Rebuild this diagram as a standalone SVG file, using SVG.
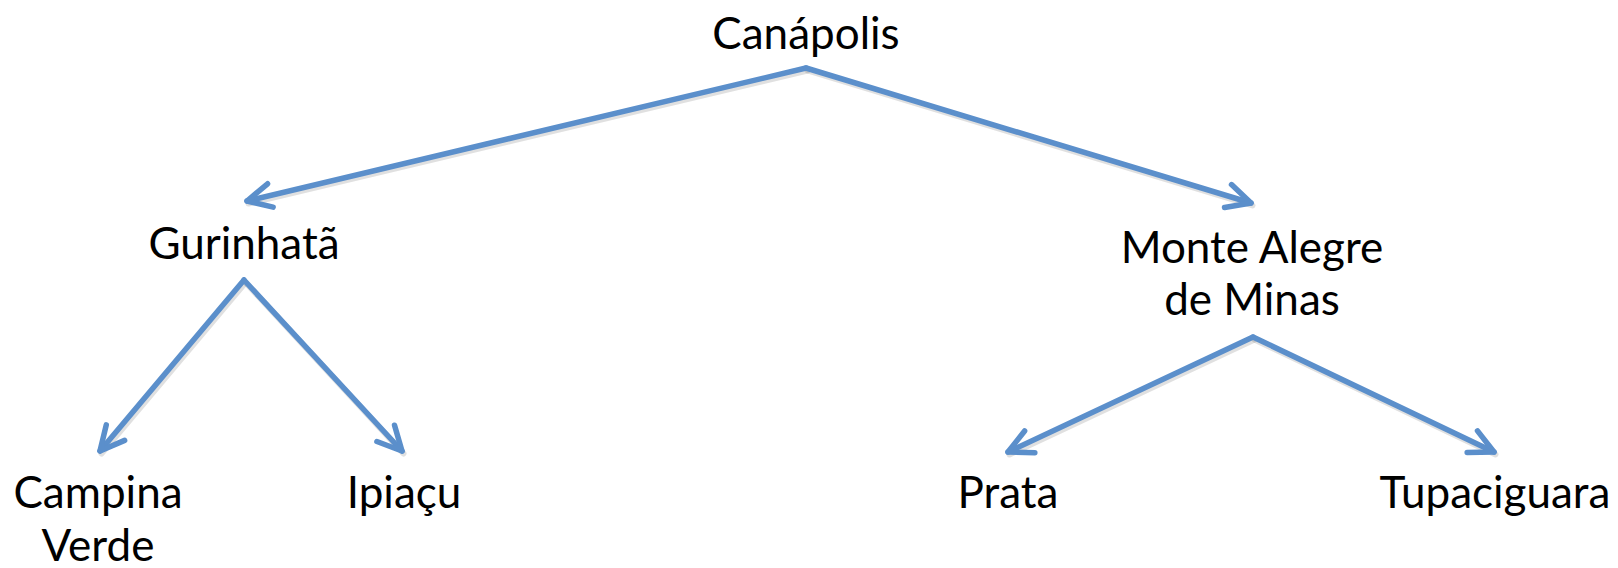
<svg xmlns="http://www.w3.org/2000/svg" width="1618" height="568" viewBox="0 0 1618 568">
<style>
text{font-family:Lato,"Open Sans","Liberation Sans",sans-serif;font-size:44px;fill:#000;text-anchor:middle}
.c{fill:none;stroke:#5b8fcb;stroke-width:5.5;stroke-linecap:round}
.s{fill:none;stroke:#000;stroke-opacity:0.12;stroke-width:6;stroke-linecap:round}
</style>
<defs>
<marker id="a" viewBox="0 0 32 32" markerWidth="32" markerHeight="32" refX="28" refY="16" orient="auto" markerUnits="userSpaceOnUse">
<path d="M4,4 L28,16 L4,28" fill="none" stroke="#5b8fcb" stroke-width="5.5" stroke-linecap="round" stroke-linejoin="round"/>
</marker>
</defs>
<rect width="1618" height="568" fill="#fff"/>
<g id="connectors">
<g transform="translate(1.5,2.5)">
<path class="s" d="M806,68 L247,201"/>
<path class="s" d="M806,68 L1251,203"/>
<path class="s" d="M244,280 L100,451"/>
<path class="s" d="M244,280 L402,451"/>
<path class="s" d="M1253,337 L1008,452"/>
<path class="s" d="M1253,337 L1494,452"/>
</g>
<path class="c" d="M806,68 L247,201" marker-end="url(#a)"/>
<path class="c" d="M806,68 L1251,203" marker-end="url(#a)"/>
<path class="c" d="M244,280 L100,451" marker-end="url(#a)"/>
<path class="c" d="M244,280 L402,451" marker-end="url(#a)"/>
<path class="c" d="M1253,337 L1008,452" marker-end="url(#a)"/>
<path class="c" d="M1253,337 L1494,452" marker-end="url(#a)"/>
</g>
<g id="canapolis"><text x="806" y="49">Canápolis</text></g>
<g id="gurinhata"><text x="244" y="259">Gurinhatã</text></g>
<g id="montealegre"><text x="1252" y="263">Monte Alegre</text><text x="1252" y="315">de Minas</text></g>
<g id="campinaverde"><text x="98" y="508">Campina</text><text x="98" y="561">Verde</text></g>
<g id="ipiacu"><text x="404" y="508">Ipiaçu</text></g>
<g id="prata"><text x="1008" y="508">Prata</text></g>
<g id="tupaciguara"><text x="1495" y="508">Tupaciguara</text></g>
</svg>
